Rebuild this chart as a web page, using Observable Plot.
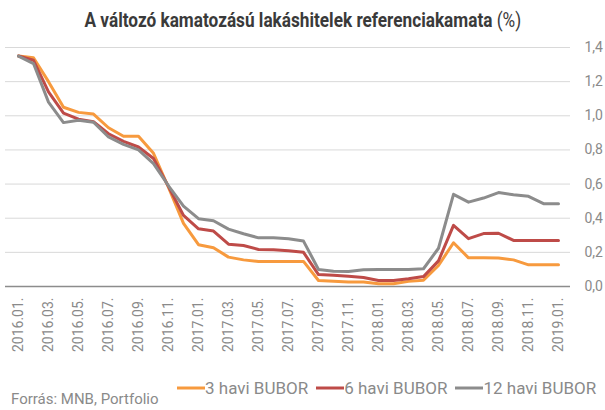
<!DOCTYPE html>
<html>
<head>
<meta charset="utf-8">
<script src="https://cdn.jsdelivr.net/npm/d3@7"></script>
<script src="https://cdn.jsdelivr.net/npm/@observablehq/plot@0.6"></script>
<style>
  html, body { margin: 0; padding: 0; background: #fff; }
  body { width: 605px; height: 410px; position: relative; overflow: hidden; font-family: Roboto, sans-serif; }
  #title { position: absolute; top: 8px; left: 0; width: 605px; text-align: center; font-size: 20px; color: #3a3a3a; white-space: nowrap; }
  #title span.inner { display: inline-block; transform: scaleX(0.86); transform-origin: center; }
  #title b { font-weight: 700; }
  #title span.pct { font-weight: 400; }
  #chart { position: absolute; top: 37px; left: 0; }
  #legend { position: absolute; top: 377px; left: 177px; display: flex; align-items: center; font-size: 17px; line-height: 22px; color: #8a8a8a; white-space: nowrap; }
  #legend .item { display: flex; align-items: center; margin-right: 8px; }
  #legend svg { display: block; }
  #caption { position: absolute; top: 390px; left: 11px; font-size: 15px; color: #8a8a8a; }
</style>
</head>
<body>
<div id="title"><span class="inner"><b>A változó kamatozású lakáshitelek referenciakamata</b> <span class="pct">(%)</span></span></div>
<div id="chart"></div>
<div id="legend"></div>
<div id="caption">Forrás: MNB, Portfolio</div>
<script>
const months = [
  "2016.01.","2016.02.","2016.03.","2016.04.","2016.05.","2016.06.","2016.07.","2016.08.","2016.09.","2016.10.","2016.11.","2016.12.",
  "2017.01.","2017.02.","2017.03.","2017.04.","2017.05.","2017.06.","2017.07.","2017.08.","2017.09.","2017.10.","2017.11.","2017.12.",
  "2018.01.","2018.02.","2018.03.","2018.04.","2018.05.","2018.06.","2018.07.","2018.08.","2018.09.","2018.10.","2018.11.","2018.12.",
  "2019.01."
];
const tickLabels = months.filter((d, i) => i % 2 === 0);
const seriesNames = ["3 havi BUBOR", "6 havi BUBOR", "12 havi BUBOR"];
const seriesColors = ["#f79a3e", "#be4b48", "#8c8c8c"];
const bubor3 = [1.35,1.34,1.20,1.05,1.02,1.01,0.93,0.88,0.88,0.78,0.58,0.37,
  0.245,0.227,0.172,0.156,0.147,0.147,0.147,0.147,0.035,0.031,0.027,0.027,
  0.016,0.016,0.030,0.037,0.123,0.256,0.168,0.168,0.167,0.156,0.127,0.127,
  0.127];
const bubor6 = [1.35,1.325,1.14,1.015,0.98,0.965,0.895,0.85,0.817,0.75,0.585,0.416,
  0.338,0.325,0.248,0.240,0.217,0.215,0.210,0.200,0.070,0.066,0.060,0.053,
  0.035,0.035,0.045,0.058,0.150,0.358,0.280,0.310,0.312,0.270,0.270,0.270,
  0.270];
const bubor12 = [1.35,1.306,1.08,0.96,0.974,0.962,0.876,0.833,0.80,0.72,0.59,0.471,
  0.397,0.385,0.336,0.309,0.285,0.285,0.280,0.266,0.100,0.090,0.088,0.098,
  0.100,0.100,0.100,0.104,0.224,0.540,0.494,0.518,0.550,0.538,0.528,0.485,
  0.485];
const yTicks = [0, 0.2, 0.4, 0.6, 0.8, 1.0, 1.2, 1.4];

const seriesValues = [bubor3, bubor6, bubor12];
const data = [];
seriesNames.forEach((name, s) => {
  seriesValues[s].forEach((v, i) => data.push({month: months[i], value: v, series: name}));
});

const chart = Plot.plot({
  width: 605,
  height: 335,
  marginTop: 10,
  marginBottom: 86,
  marginLeft: 5,
  marginRight: 35,
  style: {fontFamily: "Roboto, sans-serif", background: "transparent"},
  x: {type: "point", domain: months, padding: 0.5},
  y: {domain: [0, 1.4]},
  color: {domain: seriesNames, range: seriesColors},
  marks: [
    Plot.gridY(yTicks, {stroke: "#d9d9d9", strokeOpacity: 1, strokeWidth: 1}),
    Plot.ruleY([0], {stroke: "#8c8c8c", strokeWidth: 1.5}),
    Plot.axisY(yTicks, {anchor: "right", tickSize: 0, tickPadding: 14, label: null,
      tickFormat: d => d.toFixed(1).replace(".", ","), fontSize: 14, fill: "#8a8a8a"}),
    Plot.axisX(tickLabels, {anchor: "bottom", tickSize: 0, tickPadding: 11, tickRotate: -90, label: null,
      fontSize: 14, fill: "#8a8a8a"}),
    Plot.line(data, {x: "month", y: "value", stroke: "series", strokeWidth: 3, strokeLinejoin: "round"})
  ]
});
document.getElementById("chart").appendChild(chart);

const legend = document.getElementById("legend");
seriesNames.forEach((name, i) => {
  const item = document.createElement("div");
  item.className = "item";
  item.innerHTML = `<svg width="28" height="10"><line x1="0" x2="28" y1="5" y2="5" stroke="${seriesColors[i]}" stroke-width="3"/></svg><span>${name}</span>`;
  legend.appendChild(item);
});
</script>
</body>
</html>
